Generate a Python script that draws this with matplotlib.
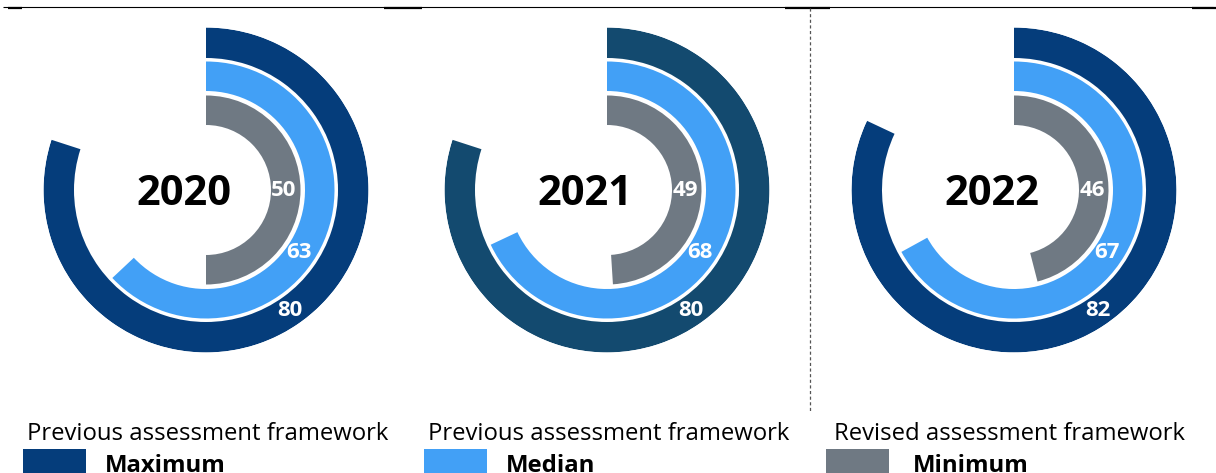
import numpy as np
import matplotlib

matplotlib.use("Agg")
import matplotlib.pyplot as plt

plt.rcParams["font.family"] = ["Open Sans", "DejaVu Sans"]

# ring values per year (percent of a full turn)
years = ["2020", "2021", "2022"]
maximum = [80, 80, 82]
median = [63, 68, 67]
minimum = [50, 49, 46]
frameworks = [
    "Previous assessment framework",
    "Previous assessment framework",
    "Revised assessment framework",
]
series_names = ["Maximum", "Median", "Minimum"]

COL_MAX = "#053d7b"
COL_MAX_2021 = "#134a6f"
COL_MED = "#42a0f6"
COL_MIN = "#6f7983"
outer_colors = [COL_MAX, COL_MAX_2021, COL_MAX]

W, H = 1216, 473
fig = plt.figure(figsize=(W / 100, H / 100), dpi=100)

# full-figure overlay in pixel coordinates for rules and legend
ov = fig.add_axes([0, 0, 1, 1])
ov.set_xlim(0, W)
ov.set_ylim(H, 0)
ov.set_axis_off()

ov.plot([3, 1213], [7, 7], color="black", lw=0.8, solid_capstyle="butt")
for x0, x1 in [(8, 22), (384, 422), (785, 830), (1192, 1216)]:
    ov.plot([x0, x1], [7.6, 7.6], color="black", lw=1.6, solid_capstyle="butt")
ov.plot([810, 810], [8, 411], color="#555555", lw=0.9, linestyle=(0, (2.5, 2)))

centers_x = [206, 607, 1014]
cy = 190
R = 162.5

# radial band per series: (inner radius, thickness)
bands = [(132, 30.5), (99, 29.5), (65, 29.5)]
label_pos = [(147, 145), (112.5, 124), (78, 90)]

for i, cx in enumerate(centers_x):
    ax = fig.add_axes([(cx - R) / W, (H - cy - R) / H, 2 * R / W, 2 * R / H],
                      projection="polar")
    ax.set_theta_zero_location("N")
    ax.set_theta_direction(-1)
    ax.set_ylim(0, R)
    ax.set_axis_off()

    vals = [maximum[i], median[i], minimum[i]]
    cols = [outer_colors[i], COL_MED, COL_MIN]
    for v, c, (r0, dr), (lr, la) in zip(vals, cols, bands, label_pos):
        ax.bar(0, dr, width=np.deg2rad(v * 3.6), bottom=r0, align="edge",
               color=c, linewidth=0)
        ax.text(np.deg2rad(la), lr, str(v), ha="center", va="center",
                color="white", fontsize=16, fontweight="bold")

    ov.text(cx - 22, cy + 15, years[i], ha="center", va="baseline",
            fontsize=30, fontweight="bold", color="black")

# legend row under each chart
box_x = [23, 424, 826]
caption_x = [27, 428, 834]
name_x = [105, 506, 913]
legend_cols = [COL_MAX, COL_MED, COL_MIN]
for bx, tx, nx, fw, name, c in zip(box_x, caption_x, name_x, frameworks,
                                   series_names, legend_cols):
    ov.text(tx, 439.5, fw, ha="left", va="baseline", fontsize=17.2,
            color="black")
    ov.add_patch(plt.Rectangle((bx, 448.5), 63, 30, color=c, lw=0))
    ov.text(nx, 472, name, ha="left", va="baseline", fontsize=17.2,
            fontweight="bold", color="black")

fig.savefig("out.png", dpi=100)
